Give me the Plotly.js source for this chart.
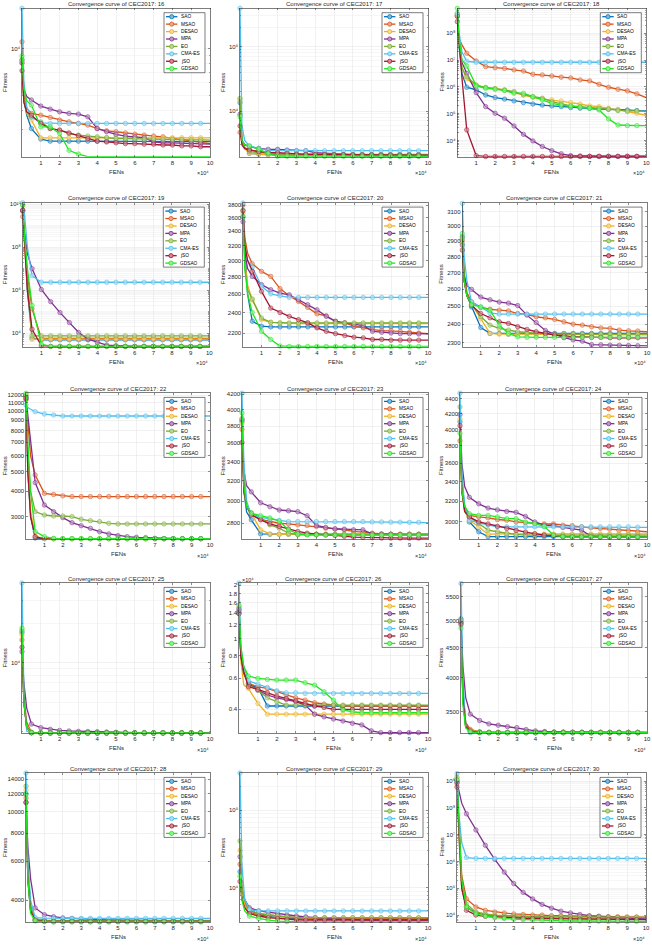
<!DOCTYPE html>
<html><head><meta charset="utf-8">
<script src="https://cdn.plot.ly/plotly-3.0.1.min.js"></script>
<style>html,body{margin:0;padding:0;background:#fff;}#chart{width:652px;height:945px;}</style>
</head><body><div id="chart"></div>
<script>
const W = 652, H = 945;
const ALGS = ['SAO','MSAO','DESAO','MPA','EO','CMA-ES','jSO','GDSAO'];
const COLORS = ['#0072BD','#D95319','#EDB120','#7E2F8E','#77AC30','#4DBEEE','#A2142F','#1EE61E'];
const FES = [0,1000,2500, 5000,10000,15000,20000,25000, 30000,35000,40000,45000,50000, 55000,60000,65000,70000,75000, 80000,85000,90000,95000,100000];
const XTICKS = [10000,20000,30000,40000,50000,60000,70000,80000,90000,100000];
const XTICK_TEXT = ['1','2','3','4','5','6','7','8','9','10'];

// series order follows ALGS
const F16 = [
 [8430,4650,3710, 3040,2600,2520,2520,2520, 2520,2520,2520,2520,2520, 2520,2520,2510,2510,2510, 2510,2500,2500,2500,2500],
 [11070,5000,4100, 3810,3710,3590,3450,3360, 3280,3200,3040,2940,2900, 2850,2800,2760,2720,2690, 2620,2580,2530,2490,2430],
 [8020,4650,3800, 3450,2650,2650,2650,2650, 2650,2650,2650,2650,2650, 2650,2650,2650,2650,2650, 2650,2650,2650,2650,2650],
 [8090,5500,4900, 4650,4250,4060,3900,3810, 3770,3620,3040,2900,2790, 2720,2690,2660,2490,2460, 2460,2450,2430,2430,2410],
 [8430,4500,3900, 3620,3360,3040,2970,2820, 2760,2720,2690,2660,2620, 2620,2610,2600,2600,2590, 2580,2580,2570,2570,2560],
 [18200,5960,4200, 3620,3310,3280,3280,3280, 3280,3280,3280,3280,3280, 3280,3280,3280,3280,3280, 3280,3280,3280,3280,3280],
 [7190,4500,3900, 3710,3280,3040,2970,2850, 2730,2620,2520,2490,2460, 2430,2430,2410,2410,2380, 2380,2350,2350,2320,2320],
 [8950,5500,4600, 4310,3120,3120,2820,2200, 2080,2000,2000,2000,2000, 2000,2000,2000,2000,2000, 2000,2000,2000,2000,2000]
];
const F17 = [
 [13500,3500,2700, 2200,2140,2100,2070,2070, 2060,2050,2050,2040,2040, 2030,2030,2020,2020,2010, 2010,2000,2000,2000,2000],
 [4660,3200,2700, 2480,2340,2250,2200,2140, 2140,2120,2110,2100,2100, 2090,2090,2080,2080,2080, 2070,2070,2070,2070,2070],
 [14800,3300,2600, 2200,2140,2070,2070,2060, 2060,2050,2050,2050,2040, 2040,2040,2030,2030,2030, 2030,2020,2020,2020,2020],
 [8880,3500,3000, 2790,2630,2540,2540,2480, 2420,2420,2250,2200,2140, 2120,2100,2090,2080,2080, 2070,2070,2070,2060,2060],
 [15700,3400,2700, 2340,2250,2200,2140,2140, 2140,2130,2130,2130,2120, 2120,2120,2120,2120,2120, 2120,2120,2120,2120,2120],
 [394000,6000,3500, 2860,2630,2420,2420,2420, 2420,2420,2420,2420,2420, 2420,2420,2420,2420,2420, 2420,2420,2420,2420,2420],
 [5850,3000,2600, 2480,2340,2250,2250,2200, 2140,2120,2110,2100,2090, 2090,2080,2080,2080,2070, 2070,2070,2070,2070,2070],
 [8160,3500,3000, 2860,2540,2200,1980,1980, 1980,1980,1980,1980,1980, 1980,1980,1980,1980,1980, 1980,1980,1980,1980,1980]
];
const F18 = [
 [4.8e8,3e7,3e6, 9.7e5,7.7e5,5.0e5,4.0e5,3.5e5, 3.0e5,2.6e5,2.3e5,2.1e5,1.95e5, 1.84e5,1.69e5,1.6e5,1.6e5,1.5e5, 1.47e5,1.38e5,1.38e5,1.31e5,1.27e5],
 [4.2e8,6e7,3.7e7, 1.8e7,9.3e6,5.7e6,5.2e6,4.9e6, 4.3e6,3.9e6,2.95e6,2.8e6,2.56e6, 2.3e6,2.16e6,1.82e6,1.67e6,1.25e6, 9.7e5,8.2e5,7.1e5,5.5e5,4.0e5],
 [5.5e8,5e7,5e6, 2.0e6,1.09e6,9.7e5,8.6e5,7.7e5, 6.1e5,5.0e5,4.1e5,3.6e5,3.3e5, 3.0e5,2.6e5,2.3e5,1.95e5,1.84e5, 1.6e5,1.47e5,1.2e5,1.04e5,8.5e4],
 [4.4e8,5e7,8e6, 3.2e6,6.1e5,1.84e5,1.04e5,6.8e4, 3.5e4,1.7e4,9.7e3,6.0e3,4.2e3, 3.2e3,2.75e3,2.67e3,2.6e3,2.6e3, 2.6e3,2.6e3,2.6e3,2.6e3,2.6e3],
 [4.8e8,3e7,5e6, 2.4e6,1.18e6,9.4e5,8.6e5,7.7e5, 6.7e5,5.0e5,4.3e5,3.8e5,2.8e5, 2.3e5,1.95e5,1.84e5,1.69e5,1.6e5, 1.47e5,1.31e5,1.27e5,1.27e5,1.2e5],
 [5.5e8,1e8,2e7, 9e6,8.3e6,8.3e6,8.3e6,8.3e6, 8.3e6,8.3e6,8.3e6,8.3e6,8.3e6, 8.3e6,8.3e6,8.3e6,8.3e6,8.3e6, 8.3e6,8.3e6,8.3e6,8.3e6,8.3e6],
 [2.7e8,5e7,2e6, 2.5e4,2.75e3,2.55e3,2.55e3,2.55e3, 2.55e3,2.55e3,2.55e3,2.55e3,2.55e3, 2.55e3,2.55e3,2.55e3,2.55e3,2.55e3, 2.55e3,2.55e3,2.55e3,2.55e3,2.55e3],
 [8.5e8,6e7,1e7, 6.0e6,1.09e6,8.9e5,8.2e5,7.3e5, 5.8e5,5.8e5,4.3e5,3.3e5,2.45e5, 2.1e5,1.95e5,1.74e5,1.6e5,1.38e5, 6.4e4,3.8e4,3.6e4,3.6e4,3.6e4]
];
const F19 = [
 [4.9e9,1e8,1e6, 5860,4900,4900,4900,4900, 4900,4900,4900,4900,4900, 4900,4900,4900,4900,4900, 4900,4900,4900,4900,4900],
 [2.6e9,2e8,5e6, 1.37e5,5650,5650,5650,5650, 5650,5650,5650,5650,5650, 5650,5650,5650,5650,5650, 5650,5650,5650,5650,5650],
 [4.4e9,1e8,2e6, 5270,5270,5270,5270,5270, 5270,5270,5270,5270,5270, 5270,5270,5270,5270,5270, 5270,5270,5270,5270,5270],
 [4.9e9,5e8,5e7, 1.0e7,1.07e6,2.9e5,9e4,3.1e4, 1.07e4,5270,3700,2790,2600, 2420,2420,2420,2420,2420, 2420,2420,2420,2420,2420],
 [9e9,2e8,3e6, 7500,7500,7500,7500,7500, 7500,7500,7500,7500,7500, 7500,7500,7500,7500,7500, 7500,7500,7500,7500,7500],
 [1.15e10,3e9,1e8, 4.7e6,2.33e6,2.33e6,2.33e6,2.33e6, 2.33e6,2.33e6,2.33e6,2.33e6,2.33e6, 2.33e6,2.33e6,2.33e6,2.33e6,2.33e6, 2.33e6,2.33e6,2.33e6,2.33e6,2.33e6],
 [5.3e9,1e8,1e6, 1.52e4,2600,2420,2420,2420, 2420,2420,2420,2420,2420, 2420,2420,2420,2420,2420, 2420,2420,2420,2420,2420],
 [9e9,3e8,1e7, 1.95e5,3100,2420,2420,2420, 2420,2420,2420,2420,2420, 2420,2420,2420,2420,2420, 2420,2420,2420,2420,2420]
];
const F20 = [
 [3616,3100,2600, 2316,2268,2261,2261,2261, 2261,2261,2261,2261,2261, 2261,2261,2261,2261,2261, 2261,2261,2261,2261,2261],
 [3800,3300,3096, 2960,2865,2804,2662,2582, 2521,2457,2390,2371,2316, 2300,2268,2252,2235,2226, 2226,2219,2210,2203,2197],
 [3668,3000,2700, 2539,2332,2306,2300,2294, 2294,2294,2294,2294,2294, 2294,2294,2294,2294,2294, 2294,2294,2294,2294,2294],
 [3540,3100,2900, 2804,2708,2650,2612,2593, 2539,2486,2432,2365,2316, 2300,2284,2274,2219,2210, 2203,2197,2197,2194,2194],
 [3720,2900,2650, 2546,2348,2306,2300,2300, 2300,2300,2300,2300,2300, 2300,2300,2300,2300,2300, 2300,2300,2300,2300,2300],
 [3835,3200,3000, 2918,2690,2604,2582,2564, 2564,2564,2564,2564,2564, 2564,2564,2564,2564,2564, 2564,2564,2564,2564,2564],
 [3710,3200,3000, 2865,2631,2450,2404,2365, 2332,2300,2252,2219,2197, 2179,2164,2158,2143,2143, 2137,2137,2137,2137,2137],
 [3616,2900,2600, 2404,2219,2143,2084,2080, 2080,2080,2080,2080,2080, 2080,2080,2080,2080,2080, 2080,2080,2080,2080,2080]
];
const F21 = [
 [2930,2650,2560, 2496,2382,2350,2350,2346, 2350,2350,2350,2350,2350, 2350,2350,2350,2350,2350, 2350,2350,2350,2350,2350],
 [2905,2700,2580, 2525,2493,2483,2478,2474, 2459,2454,2441,2435,2426, 2413,2400,2395,2386,2380, 2377,2368,2364,2363,2359],
 [2885,2650,2560, 2512,2430,2350,2346,2346, 2346,2342,2342,2342,2342, 2342,2342,2342,2342,2342, 2342,2342,2342,2342,2342],
 [2874,2680,2620, 2598,2553,2537,2524,2518, 2504,2450,2409,2366,2345, 2327,2316,2309,2291,2290, 2288,2287,2286,2285,2284],
 [2920,2650,2570, 2512,2441,2395,2377,2368, 2359,2355,2350,2350,2346, 2346,2346,2346,2346,2346, 2346,2346,2346,2346,2346],
 [3160,2800,2650, 2525,2496,2463,2456,2456, 2456,2456,2456,2456,2456, 2456,2456,2456,2456,2456, 2456,2456,2456,2456,2456],
 [2841,2650,2560, 2505,2459,2435,2413,2404, 2386,2372,2359,2350,2341, 2338,2332,2332,2329,2329, 2327,2327,2327,2327,2327],
 [2951,2650,2560, 2509,2496,2478,2395,2350, 2332,2329,2329,2329,2329, 2329,2329,2329,2329,2329, 2329,2329,2329,2329,2329]
];
const F22 = [
 [11800,5000,3000, 2350,2330,2330,2330,2330, 2330,2330,2330,2330,2330, 2330,2330,2330,2330,2330, 2330,2330,2330,2330,2330],
 [11350,9000,6000, 4820,3910,3860,3800,3770, 3770,3770,3770,3770,3770, 3770,3770,3770,3770,3770, 3770,3770,3770,3770,3770],
 [12000,5500,3200, 2400,2335,2330,2330,2330, 2330,2330,2330,2330,2330, 2330,2330,2330,2330,2330, 2330,2330,2330,2330,2330],
 [11500,9500,7000, 4420,3425,3175,2965,2800, 2705,2624,2527,2462,2415, 2388,2370,2361,2343,2334, 2334,2334,2334,2334,2334],
 [11900,6000,4000, 3175,3055,3020,3020,3000, 2910,2865,2833,2779,2760, 2760,2760,2760,2760,2760, 2760,2760,2760,2760,2760],
 [10710,10400,10200, 9925,9660,9550,9445,9445, 9445,9445,9445,9445,9445, 9445,9445,9445,9445,9445, 9445,9445,9445,9445,9445],
 [11600,5000,3000, 2388,2324,2324,2324,2324, 2324,2324,2324,2324,2324, 2324,2324,2324,2324,2324, 2324,2324,2324,2324,2324],
 [12250,7000,4000, 2527,2388,2343,2334,2334, 2334,2334,2334,2334,2334, 2334,2334,2334,2334,2334, 2334,2334,2334,2334,2334]
];
const F23 = [
 [3855,3100,2900, 2830,2708,2705,2705,2705, 2705,2705,2705,2705,2705, 2705,2705,2705,2705,2705, 2705,2705,2705,2705,2705],
 [3760,3200,2950, 2875,2835,2815,2800,2795, 2786,2781,2772,2757,2749, 2743,2729,2720,2714,2708, 2705,2705,2705,2705,2705],
 [3835,3100,2950, 2889,2743,2708,2705,2705, 2705,2705,2705,2705,2705, 2705,2705,2705,2705,2705, 2705,2705,2705,2705,2705],
 [3877,3300,3150, 3090,2986,2949,2919,2912, 2904,2867,2781,2764,2752, 2749,2743,2743,2708,2705, 2705,2702,2702,2702,2702],
 [3890,3100,2950, 2895,2845,2786,2757,2714, 2700,2700,2700,2700,2700, 2700,2700,2700,2700,2700, 2700,2700,2700,2700,2700],
 [4213,3400,3000, 2874,2853,2836,2825,2815, 2815,2815,2815,2815,2815, 2815,2815,2815,2812,2812, 2810,2810,2808,2808,2806],
 [3608,3100,2950, 2875,2830,2795,2772,2750, 2729,2714,2705,2700,2695, 2687,2681,2678,2676,2673, 2673,2673,2673,2673,2673],
 [3960,3150,2950, 2889,2867,2848,2820,2743, 2708,2700,2700,2697,2697, 2697,2697,2697,2697,2697, 2697,2697,2697,2697,2697]
];
const F24 = [
 [4096,3400,3150, 3000,2910,2866,2866,2866, 2866,2866,2866,2866,2866, 2866,2866,2866,2866,2866, 2866,2866,2866,2866,2866],
 [3861,3300,3150, 3062,3047,3039,3023,3016, 3000,2992,2985,2981,2981, 2970,2966,2955,2946,2940, 2934,2922,2919,2910,2910],
 [4130,3300,3100, 3016,2955,2886,2890,2890, 2890,2890,2890,2890,2890, 2890,2890,2890,2890,2890, 2890,2890,2890,2890,2890],
 [4190,3600,3350, 3239,3174,3132,3115,3100, 3091,3052,3000,2970,2966, 2949,2937,2925,2872,2866, 2866,2866,2866,2866,2866],
 [4290,3300,3100, 3047,2985,2925,2910,2895, 2886,2880,2880,2880,2880, 2880,2880,2880,2880,2880, 2880,2880,2880,2880,2880],
 [4478,3500,3150, 3016,2992,2970,2955,2955, 2955,2955,2955,2955,2955, 2955,2955,2955,2955,2955, 2955,2955,2955,2952,2950],
 [4047,3300,3100, 3047,3000,2981,2960,2940, 2922,2907,2893,2880,2877, 2866,2863,2863,2863,2863, 2863,2863,2863,2863,2863],
 [3952,3300,3150, 3078,3062,3062,3047,3031, 3031,3000,2985,2960,2880, 2866,2863,2863,2863,2863, 2863,2863,2863,2863,2863]
];
const F25 = [
 [17000,5000,3200, 2920,2910,2906,2906,2906, 2906,2906,2906,2906,2906, 2906,2906,2906,2906,2906, 2906,2906,2906,2906,2906],
 [14900,5500,3500, 2940,2910,2906,2906,2906, 2906,2906,2906,2906,2906, 2906,2906,2906,2906,2906, 2906,2906,2906,2906,2906],
 [16260,5000,3300, 2930,2910,2906,2906,2906, 2906,2906,2906,2906,2906, 2906,2906,2906,2906,2906, 2906,2906,2906,2906,2906],
 [12130,7000,4500, 3400,3190,3100,3040,3010, 2990,2980,2970,2955,2940, 2930,2920,2920,2915,2915, 2910,2910,2910,2905,2905],
 [17600,5000,3200, 2930,2910,2906,2906,2906, 2906,2906,2906,2906,2906, 2906,2906,2906,2906,2906, 2906,2906,2906,2906,2906],
 [40500,6000,3000, 2905,2905,2905,2905,2905, 2905,2905,2905,2905,2905, 2905,2905,2905,2905,2905, 2905,2905,2905,2905,2905],
 [13090,5000,3200, 2920,2906,2906,2906,2906, 2906,2906,2906,2906,2906, 2906,2906,2906,2906,2906, 2906,2906,2906,2906,2906],
 [18300,5000,3200, 2920,2910,2906,2906,2906, 2906,2906,2906,2906,2906, 2906,2906,2906,2906,2906, 2906,2906,2906,2906,2906]
];
const F26 = [
 [14460,8000,6500, 5480,5320,4180,4180,4180, 4180,4180,4180,4180,4180, 4180,4180,4180,4180,4180, 4180,4180,4180,4180,4180],
 [14150,8000,6500, 5600,5360,5250,5030,4820, 4650,4510,4360,4290,4230, 4180,4180,4180,4180,4180, 4180,4180,4180,4180,4180],
 [15100,7500,5500, 5250,4320,3760,3760,3760, 3760,3760,3760,3760,3760, 3760,3760,3760,3760,3760, 3760,3760,3760,3760,3760],
 [14770,8000,6370, 5600,5130,4820,4650,4550, 4420,4230,3760,3630,3530, 3440,3340,3270,3030,2960, 2960,2960,2960,2960,2960],
 [13850,8000,6500, 5480,5130,4650,4420,4230, 4230,4230,4230,4230,4230, 4230,4230,4230,4230,4230, 4230,4230,4230,4230,4230],
 [20590,9000,7000, 5800,5550,5320,5090,4960, 4960,4920,4920,4920,4920, 4920,4920,4920,4920,4920, 4920,4920,4920,4920,4920],
 [13850,8000,6500, 5360,5180,4960,4750,4610, 4470,4320,4180,4100,4000, 4000,4000,4000,4000,4000, 4000,4000,4000,4000,4000],
 [15420,9000,7000, 6160,5980,5900,5850,5850, 5850,5650,5480,5030,4510, 3970,3880,3830,3830,3830, 3830,3830,3830,3830,3830]
];
const F27 = [
 [5045,3800,3350, 3240,3225,3220,3220,3220, 3220,3220,3220,3220,3220, 3220,3220,3220,3220,3220, 3220,3220,3220,3220,3220],
 [4975,3800,3350, 3260,3230,3225,3225,3225, 3225,3225,3225,3225,3225, 3225,3225,3225,3225,3225, 3225,3225,3225,3225,3225],
 [4995,3700,3300, 3250,3225,3220,3220,3220, 3220,3220,3220,3220,3220, 3220,3220,3220,3220,3220, 3220,3220,3220,3220,3220],
 [4963,4200,3700, 3463,3377,3333,3315,3297, 3284,3259,3242,3234,3229, 3227,3225,3225,3224,3223, 3222,3222,3221,3221,3221],
 [5015,3700,3300, 3245,3225,3222,3222,3222, 3222,3222,3222,3222,3222, 3222,3222,3222,3222,3222, 3222,3222,3222,3222,3222],
 [5800,4000,3300, 3218,3218,3218,3218,3218, 3218,3218,3218,3218,3218, 3218,3218,3218,3218,3218, 3218,3218,3218,3218,3218],
 [4930,3700,3300, 3240,3222,3220,3220,3220, 3220,3220,3220,3220,3220, 3220,3220,3220,3220,3220, 3220,3220,3220,3220,3220],
 [4865,3600,3280, 3230,3220,3218,3218,3218, 3218,3218,3218,3218,3218, 3218,3218,3218,3218,3218, 3218,3218,3218,3218,3218]
];
const F28 = [
 [12000,5000,3600, 3250,3230,3220,3220,3220, 3220,3220,3220,3220,3220, 3220,3220,3220,3220,3220, 3220,3220,3220,3220,3220],
 [11500,5500,3800, 3300,3250,3240,3230,3230, 3230,3230,3230,3230,3230, 3230,3230,3230,3230,3230, 3230,3230,3230,3230,3230],
 [12500,5000,3600, 3260,3230,3225,3225,3225, 3225,3225,3225,3225,3225, 3225,3225,3225,3225,3225, 3225,3225,3225,3225,3225],
 [11000,7000,5000, 3700,3450,3380,3340,3320, 3300,3290,3280,3270,3260, 3260,3250,3250,3250,3240, 3240,3240,3240,3240,3240],
 [13000,5500,3800, 3300,3260,3250,3250,3250, 3250,3250,3250,3250,3250, 3250,3250,3250,3250,3250, 3250,3250,3250,3250,3250],
 [14900,6000,4000, 3350,3330,3320,3320,3320, 3320,3320,3320,3320,3320, 3320,3320,3320,3320,3320, 3320,3320,3320,3320,3320],
 [11000,5000,3600, 3260,3230,3220,3220,3220, 3220,3220,3220,3220,3220, 3220,3220,3220,3220,3220, 3220,3220,3220,3220,3220],
 [12000,5000,3500, 3240,3210,3200,3200,3200, 3200,3200,3200,3200,3200, 3200,3200,3200,3200,3200, 3200,3200,3200,3200,3200]
];
const F29 = [
 [16000,8000,6000, 4800,4400,4200,4100,4000, 3950,3900,3900,3900,3900, 3900,3900,3900,3900,3900, 3900,3900,3900,3900,3900],
 [20000,9000,6500, 5000,4600,4400,4300,4200, 4100,4050,4000,4000,4000, 4000,4000,4000,4000,4000, 4000,4000,4000,4000,4000],
 [30000,9000,6000, 4700,4300,4100,4100,4100, 4100,4100,4100,4100,4100, 4100,4100,4100,4100,4100, 4100,4100,4100,4100,4100],
 [25000,10000,7000, 5500,5000,4800,4600,4400, 4300,4200,4100,4000,3950, 3900,3850,3850,3800,3800, 3800,3800,3800,3800,3800],
 [40000,10000,7000, 5200,4600,4400,4300,4200, 4100,4100,4100,4100,4100, 4100,4100,4100,4100,4100, 4100,4100,4100,4100,4100],
 [300000,20000,7000, 5200,5000,5000,5000,5000, 5000,5000,5000,5000,5000, 5000,5000,5000,5000,5000, 5000,5000,5000,5000,5000],
 [12000,7000,5500, 4600,4300,4100,4000,3900, 3850,3800,3800,3800,3800, 3800,3800,3800,3800,3800, 3800,3800,3800,3800,3800],
 [14000,7000,5000, 4300,4000,3800,3700,3650, 3600,3600,3600,3600,3600, 3600,3600,3600,3600,3600, 3600,3600,3600,3600,3600]
];
const F30 = [
 [1.0e9,1e7,1e5, 2e4,1.2e4,1e4,9e3,8.5e3, 8e3,8e3,7.8e3,7.8e3,7.6e3, 7.6e3,7.5e3,7.5e3,7.4e3,7.4e3, 7.3e3,7.3e3,7.2e3,7.2e3,7.2e3],
 [8e8,2e7,3e5, 4e4,2e4,1.5e4,1.3e4,1.2e4, 1.1e4,1.05e4,1e4,1e4,9.5e3, 9.5e3,9e3,9e3,8.8e3,8.8e3, 8.6e3,8.6e3,8.5e3,8.5e3,8.4e3],
 [1.2e9,1e7,1e5, 2e4,1.1e4,9.5e3,9e3,8.5e3, 8e3,7.8e3,7.6e3,7.5e3,7.4e3, 7.3e3,7.2e3,7.2e3,7.1e3,7.1e3, 7e3,7e3,7e3,7e3,7e3],
 [9e8,4e8,1.5e8, 6e7,1.5e7,4e6,1.2e6,4e5, 1.5e5,7e4,4e4,2.5e4,1.8e4, 1.4e4,1.2e4,1.05e4,9.5e3,9e3, 8.5e3,8e3,7.5e3,7.2e3,7e3],
 [1.4e9,2e7,2e5, 2.5e4,1.3e4,1.1e4,1e4,9.5e3, 9e3,9e3,8.8e3,8.8e3,8.6e3, 8.6e3,8.5e3,8.5e3,8.4e3,8.4e3, 8.3e3,8.3e3,8.2e3,8.2e3,8.2e3],
 [1.9e9,6e7,5e6, 1.4e6,1.3e6,1.3e6,1.3e6,1.3e6, 1.3e6,1.3e6,1.3e6,1.3e6,1.3e6, 1.3e6,1.3e6,1.3e6,1.3e6,1.3e6, 1.3e6,1.3e6,1.3e6,1.3e6,1.3e6],
 [6e8,1e7,1e5, 1.5e4,1e4,9e3,8.5e3,8e3, 7.8e3,7.6e3,7.5e3,7.4e3,7.3e3, 7.2e3,7.1e3,7e3,7e3,6.9e3, 6.9e3,6.8e3,6.8e3,6.8e3,6.8e3],
 [1.1e9,2e7,2e5, 2e4,1.1e4,9e3,8e3,7.5e3, 7e3,6.8e3,6.5e3,6.3e3,6.2e3, 6.1e3,6e3,6e3,5.9e3,5.9e3, 5.8e3,5.8e3,5.8e3,5.8e3,5.8e3]
];

// y-axis tick values / labels per panel
const T_POW4 = [1e4], L_POW4 = ['10\u2074'];
const T17 = [1e4,1e5], L17 = ['10\u2074','10\u2075'];
const T18 = [1e4,1e5,1e6,1e7,1e8], L18 = ['10\u2074','10\u2075','10\u2076','10\u2077','10\u2078'];
const T19 = [1e4,1e6,1e8,1e10], L19 = ['10\u2074','10\u2076','10\u2078','10\u00b9\u2070'];
const T20 = [2200,2400,2600,2800,3000,3200,3400,3600,3800];
const T21 = [2300,2400,2500,2600,2700,2800,2900,3000,3100];
const T22 = [3000,4000,5000,6000,7000,8000,9000,10000,11000,12000];
const T23 = [2800,3000,3200,3400,3600,3800,4000,4200];
const T24 = [3000,3200,3400,3600,3800,4000,4200,4400];
const T26 = [4000,6000,8000,10000,12000,14000,16000,18000,20000], L26 = ['0.4','0.6','0.8','1','1.2','1.4','1.6','1.8','2'];
const T27 = [3500,4000,4500,5000,5500];
const T28 = [4000,6000,8000,10000,12000,14000];
const T29 = [1e4,1e5], L29 = ['10\u2074','10\u2075'];
const T30 = [1e4,1e5,1e6,1e7,1e8,1e9], L30 = ['10\u2074','10\u2075','10\u2076','10\u2077','10\u2078','10\u2079'];
const EXP_TEXT = '\u00d710\u2074';

const PANELS = [
 {fn:16, data:F16, box:[22,8.3,210,156.7], yr:[2000,18200], ticks:T_POW4, labels:L_POW4, minor:true, col:0},
 {fn:17, data:F17, box:[240,8.3,428,156.7], yr:[1950,394000], ticks:T17, labels:L17, minor:true, col:1},
 {fn:18, data:F18, box:[457.3,8.3,646.3,156.7], yr:[2500,8.5e8], ticks:T18, labels:L18, minor:true, col:2},
 {fn:19, data:F19, box:[22.7,202.7,209.3,346.7], yr:[2345,1.16e10], ticks:T19, labels:L19, minor:true, col:0},
 {fn:20, data:F20, box:[243,202.7,428,346.7], yr:[2078,3840], ticks:T20, col:1},
 {fn:21, data:F21, box:[462.3,202.7,647,346.7], yr:[2280,3165], ticks:T21, col:2},
 {fn:22, data:F22, box:[26,393,210,539], yr:[2324,12280], ticks:T22, col:0},
 {fn:23, data:F23, box:[242,393,428,539], yr:[2665,4215], ticks:T23, col:1},
 {fn:24, data:F24, box:[460,393,647,539], yr:[2845,4480], ticks:T24, col:2},
 {fn:25, data:F25, box:[22,583,210,733], yr:[2904,40500], ticks:T_POW4, labels:L_POW4, minor:true, col:0},
 {fn:26, data:F26, box:[239,583,428,733], yr:[2945,20600], ticks:T26, labels:L26, topExp:true, col:1},
 {fn:27, data:F27, box:[461,583,647,733], yr:[3215,5810], ticks:T27, col:2},
 {fn:28, data:F28, box:[26,773,210,922], yr:[3200,14900], ticks:T28, col:0},
 {fn:29, data:F29, box:[240,773,428,922], yr:[3600,300000], ticks:T29, labels:L29, minor:true, col:1},
 {fn:30, data:F30, box:[457,773,646,922], yr:[5500,2.0e9], ticks:T30, labels:L30, minor:true, col:2}
];

const FONT = 'Liberation Sans, Arial, Helvetica, DejaVu Sans, sans-serif';
const INK = '#262626';
function mixWhite(hex, t){
  const n = parseInt(hex.slice(1),16);
  const r=(n>>16)&255, g=(n>>8)&255, b=n&255;
  const f = c => Math.round(c+(255-c)*t);
  return 'rgb('+f(r)+','+f(g)+','+f(b)+')';
}
const FACE = COLORS.map(c => mixWhite(c, 0.5));
const MSIZE = FES.map(x => (x % 5000 === 0 && x < 100000) ? 4.4 : 0);
const MLW = MSIZE.map(s => s ? 0.8 : 0);
const CMAP = [0, 218, 436.5];

// grid positions for the 2..9 sub-decade lines of a log axis
function logMinor(lo, hi, majors){
  const vals = [];
  for (let d = Math.floor(lo); d <= Math.ceil(hi); d++){
    for (let m = 1; m < 10; m++){
      const v = m*Math.pow(10,d), lv = Math.log10(v);
      if (lv >= lo && lv <= hi && majors.indexOf(v) < 0) vals.push(v);
    }
  }
  return vals;
}

const traces = [];
const layout = {
  width:W, height:H, margin:{l:0,r:0,t:0,b:0}, paper_bgcolor:'#fff', plot_bgcolor:'#fff',
  showlegend:false, font:{family:FONT, color:INK, size:6}, shapes:[], annotations:[]
};
const px = v => v/W, py = v => 1 - v/H;

PANELS.forEach((p,k) => {
  const s = k===0 ? '' : String(k+1);
  const [l,t,r,b] = p.box;
  const lo = Math.log10(p.yr[0]), hi = Math.log10(p.yr[1]);
  const yax = {
    domain:[py(b), py(t)], anchor:'x'+s, type:'log', range:[lo,hi], tickmode:'array', tickvals:p.ticks,
    ticktext: p.labels ? p.labels : p.ticks.map(String),
    ticks:'inside', ticklen:2, tickwidth:0.5, tickcolor:INK, showline:true, mirror:'ticks', linecolor:INK, linewidth:0.6,
    showgrid:true, gridcolor:'#e3e3e3', gridwidth:0.5, zeroline:false, tickfont:{size:6, color:INK, family:FONT}, fixedrange:true
  };
  if (p.minor){
    yax.minor = {tickmode:'array', tickvals:logMinor(lo, hi, p.ticks), showgrid:true, gridcolor:'#ededed', gridwidth:0.5, ticks:'inside', ticklen:1.2, tickcolor:INK, tickwidth:0.4};
  }
  layout['xaxis'+s] = {
    domain:[px(l), px(r)], anchor:'y'+s, range:[0,100000], tickmode:'array', tickvals:XTICKS, ticktext:XTICK_TEXT,
    ticks:'inside', ticklen:2, tickwidth:0.5, tickcolor:INK, showline:true, mirror:'ticks', linecolor:INK, linewidth:0.6,
    showgrid:true, gridcolor:'#e3e3e3', gridwidth:0.5, zeroline:false, tickfont:{size:6, color:INK, family:FONT}, fixedrange:true
  };
  layout['yaxis'+s] = yax;
  p.data.forEach((ys,j) => {
    traces.push({
      type:'scatter', mode:'lines+markers', x:FES, y:ys, xaxis:'x'+s, yaxis:'y'+s, name:ALGS[j],
      line:{color:COLORS[j], width:1.3}, cliponaxis:false, hoverinfo:'skip',
      marker:{symbol:'circle', size:MSIZE, color:FACE[j], line:{color:COLORS[j], width:MLW}}
    });
  });
  const cx = (l+r)/2;
  const A = layout.annotations;
  A.push({xref:'paper', yref:'paper', x:px(cx), y:py(t-4.3), text:'Convergence curve of CEC2017: '+p.fn, showarrow:false, xanchor:'center', yanchor:'middle', font:{size:6, color:INK}});
  A.push({xref:'paper', yref:'paper', x:px(cx), y:py(b+15), text:'FENs', showarrow:false, xanchor:'center', yanchor:'middle', font:{size:6, color:INK}});
  A.push({xref:'paper', yref:'paper', x:px(r+1), y:py(b+16.5), text:EXP_TEXT, showarrow:false, xanchor:'right', yanchor:'middle', font:{size:5.5, color:INK}});
  A.push({xref:'paper', yref:'paper', x:px(CMAP[p.col]+4.5), y:py((t+b)/2), text:'Fitness', textangle:-90, showarrow:false, xanchor:'center', yanchor:'middle', font:{size:6, color:INK}});
  if (p.topExp) A.push({xref:'paper', yref:'paper', x:px(l+1), y:py(t-3), text:EXP_TEXT, showarrow:false, xanchor:'left', yanchor:'middle', font:{size:5.5, color:INK}});
  // legend box
  const LR = r - 5, LL = LR - 41, LT = t + 4.4, pitch = 7.43, LB = LT + 8 + pitch*7;
  const S = layout.shapes;
  S.push({type:'rect', xref:'paper', yref:'paper', x0:px(LL), x1:px(LR), y0:py(LB), y1:py(LT), fillcolor:'#fff', line:{color:INK, width:0.6}, layer:'above'});
  ALGS.forEach((name,j) => {
    const ey = LT + 4 + j*pitch;
    S.push({type:'line', xref:'paper', yref:'paper', x0:px(LL+2), x1:px(LL+13.4), y0:py(ey), y1:py(ey), line:{color:COLORS[j], width:1.3}, layer:'above'});
    S.push({type:'circle', xref:'paper', yref:'paper', x0:px(LL+7.7-2.1), x1:px(LL+7.7+2.1), y0:py(ey+2.1), y1:py(ey-2.1), fillcolor:FACE[j], line:{color:COLORS[j], width:0.8}, layer:'above'});
    A.push({xref:'paper', yref:'paper', x:px(LL+14.7), y:py(ey), text:name, showarrow:false, xanchor:'left', yanchor:'middle', font:{size:4.8, color:'#000'}});
  });
});

Plotly.newPlot('chart', traces, layout, {staticPlot:true, displayModeBar:false});
</script>
</body></html>
